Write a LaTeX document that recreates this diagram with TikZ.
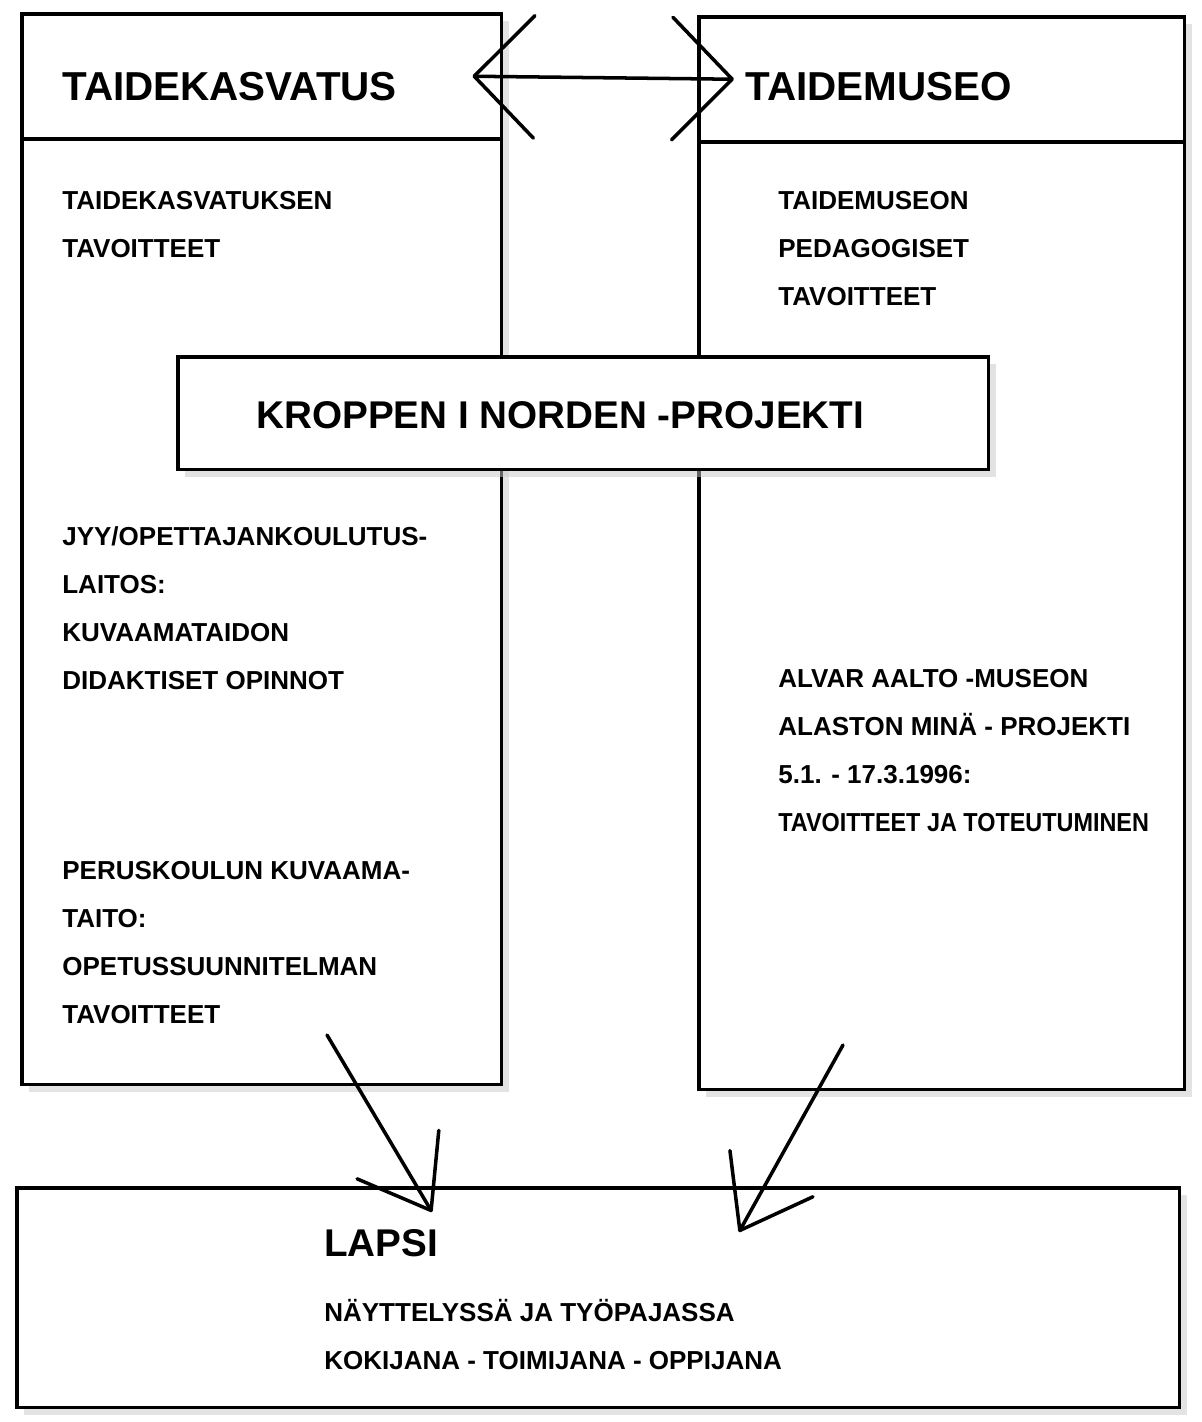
\documentclass[tikz,border=0pt]{standalone}
\usepackage{fontspec}
\setmainfont{Liberation Sans}
\usetikzlibrary{arrows.meta,positioning,shadows}
\tikzstyle{box}=[draw,fill=white,line width=2pt,anchor=north west,inner sep=0pt,drop shadow={shadow xshift=4pt,shadow yshift=-4pt,fill=black!22}]
\tikzstyle{head}=[anchor=west,inner sep=0pt,font=\bfseries\fontsize{23}{28}\selectfont]
\tikzstyle{txt}=[anchor=north west,inner sep=0pt,align=left,font=\bfseries\fontsize{14.8}{27.3}\selectfont]
\tikzstyle{link}=[line width=2pt,line cap=round,-{Straight Barb[round,length=1.3cm,width=1.9cm]}]
\tikzstyle{pair}=[line width=2pt,line cap=round,{Straight Barb[round,length=1.2cm,width=2.45cm]}-{Straight Barb[round,length=1.2cm,width=2.45cm]}]

\begin{document}
\begin{tikzpicture}[x=0.02cm,y=-0.02cm]
\useasboundingbox (0,0) rectangle (1202,1422);
\node[box,minimum width=9.6cm,minimum height=2.5cm] (kasv) at (20,12) {};
\node[box,minimum width=9.6cm,minimum height=18.92cm] (kasvb) at (20,137) {};
\node[box,minimum width=9.72cm,minimum height=2.5cm] (museo) at (697,15) {};
\node[box,minimum width=9.72cm,minimum height=18.96cm] (museob) at (697,140) {};
\node[box,minimum width=16.22cm,minimum height=2.26cm] (kroppen) at (176,355) {};
\node[box,minimum width=23.26cm,minimum height=4.4cm] (lapsi) at (15,1186) {};

\node[head] (kasvtit) at (62,87) {TAIDEKASVATUS};
\node[head] (museotit) at (745,87) {TAIDEMUSEO};
\node[head,font=\bfseries\fontsize{22}{26}\selectfont] (kroppentit) at (256,415) {KROPPEN I NORDEN -PROJEKTI};
\node[head,font=\bfseries\fontsize{22}{26}\selectfont] (lapsitit) at (324,1243) {LAPSI};

\node[txt] (tav1) at (62,191) {TAIDEKASVATUKSEN\\TAVOITTEET};
\node[txt] (jyy) at (62,526) {JYY/OPETTAJANKOULUTUS-\\LAITOS:\\KUVAAMATAIDON\\DIDAKTISET OPINNOT};
\node[txt] (perus) at (62,861) {PERUSKOULUN KUVAAMA-\\TAITO:\\OPETUSSUUNNITELMAN\\TAVOITTEET};
\node[txt] (tav2) at (778,191) {TAIDEMUSEON\\PEDAGOGISET\\TAVOITTEET};
\node[txt] (alvar) at (778,669) {ALVAR AALTO -MUSEON\\ALASTON MINÄ - PROJEKTI\\5.1. - 17.3.1996:\\\scalebox{0.9}[1]{TAVOITTEET JA TOTEUTUMINEN}};
\node[txt] (kokija) at (324,1299) {NÄYTTELYSSÄ JA TYÖPAJASSA\\KOKIJANA - TOIMIJANA - OPPIJANA};

\draw[pair] ([xshift=-0.62cm]kasv.east) -- ([xshift=0.74cm]museo.west);
\coordinate (s1) at (327,1035);
\coordinate (e1) at (432,1212);
\coordinate (s2) at (843,1045);
\coordinate (e2) at (739,1232);
\draw[link] (s1) -- (e1);
\draw[link] (s2) -- (e2);
\end{tikzpicture}
\end{document}
